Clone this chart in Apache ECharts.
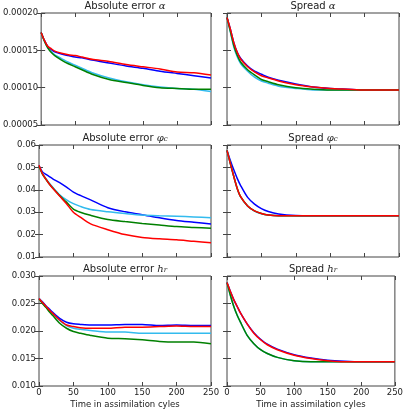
<!DOCTYPE html>
<html>
<head>
<meta charset="utf-8">
<script src="https://cdn.jsdelivr.net/npm/echarts@6/dist/echarts.min.js"></script>
<style>
  html, body { margin: 0; padding: 0; background: #fff; }
  #main { width: 406px; height: 410px; }
</style>
</head>
<body>
<div id="main"></div>
<script>
// time steps (assimilation cycles)
var cycles = [0, 5, 10, 15, 20, 30, 40, 50, 60, 75, 100, 125, 150, 175, 200, 225, 250];

// Absolute error alpha
var errAlphaBlue  = [0.000174, 0.000163, 0.000155, 0.000151, 0.000148, 0.000145, 0.000143, 0.000141, 0.000140, 0.000137, 0.000133, 0.000129, 0.000126, 0.000122, 0.000119, 0.000116, 0.000113];
var errAlphaCyan  = [0.000174, 0.000162, 0.000153, 0.000148, 0.000144, 0.000139, 0.000134, 0.000130, 0.000126, 0.000120, 0.000113, 0.000108, 0.000104, 0.000101, 0.000099, 0.000098, 0.000095];
var errAlphaGreen = [0.000174, 0.000162, 0.000153, 0.000147, 0.000143, 0.000137, 0.000132, 0.000128, 0.000124, 0.000118, 0.000111, 0.000107, 0.000103, 0.000100, 0.000099, 0.000098, 0.000098];
var errAlphaRed   = [0.000174, 0.000163, 0.000155, 0.000152, 0.000149, 0.000146, 0.000144, 0.000143, 0.000141, 0.000138, 0.000135, 0.000131, 0.000128, 0.000125, 0.000121, 0.000120, 0.000117];

// Spread alpha
var sprAlphaBlue  = [0.000194, 0.000178, 0.000160, 0.000147, 0.000139, 0.000129, 0.000122, 0.000118, 0.000114, 0.000110, 0.000105, 0.000101, 0.000099, 0.000098, 0.000097, 0.000097, 0.000097];
var sprAlphaCyan  = [0.000194, 0.000174, 0.000154, 0.000141, 0.000132, 0.000122, 0.000114, 0.000109, 0.000106, 0.000102, 0.000099, 0.000097, 0.000097, 0.000097, 0.000097, 0.000097, 0.000097];
var sprAlphaGreen = [0.000194, 0.000175, 0.000156, 0.000143, 0.000134, 0.000124, 0.000117, 0.000111, 0.000108, 0.000104, 0.000100, 0.000098, 0.000097, 0.000097, 0.000097, 0.000097, 0.000097];
var sprAlphaRed   = [0.000194, 0.000178, 0.000160, 0.000147, 0.000138, 0.000128, 0.000121, 0.000116, 0.000113, 0.000109, 0.000104, 0.000101, 0.000099, 0.000098, 0.000097, 0.000097, 0.000097];

// Absolute error phi_c
var errPhiBlue  = [0.0508, 0.0480, 0.0469, 0.0459, 0.0449, 0.0432, 0.0412, 0.0390, 0.0375, 0.0355, 0.0320, 0.0302, 0.0289, 0.0275, 0.0263, 0.0255, 0.0247];
var errPhiCyan  = [0.0505, 0.0472, 0.0450, 0.0429, 0.0411, 0.0378, 0.0355, 0.0338, 0.0326, 0.0312, 0.0302, 0.0294, 0.0287, 0.0284, 0.0282, 0.0279, 0.0275];
var errPhiGreen = [0.0505, 0.0470, 0.0447, 0.0426, 0.0408, 0.0374, 0.0345, 0.0314, 0.0300, 0.0286, 0.0267, 0.0258, 0.0250, 0.0243, 0.0236, 0.0232, 0.0228];
var errPhiRed   = [0.0510, 0.0472, 0.0448, 0.0426, 0.0407, 0.0372, 0.0338, 0.0300, 0.0278, 0.0248, 0.0222, 0.0200, 0.0187, 0.0181, 0.0177, 0.0170, 0.0164];

// Spread phi_c
var sprPhiBlue  = [0.0576, 0.0530, 0.0488, 0.0450, 0.0418, 0.0366, 0.0336, 0.0316, 0.0303, 0.0292, 0.0285, 0.0284, 0.0284, 0.0284, 0.0284, 0.0284, 0.0284];
var sprPhiCyan  = [0.0576, 0.0515, 0.0457, 0.0404, 0.0367, 0.0327, 0.0305, 0.0293, 0.0287, 0.0284, 0.0284, 0.0284, 0.0284, 0.0284, 0.0284, 0.0284, 0.0284];
var sprPhiGreen = [0.0576, 0.0516, 0.0458, 0.0405, 0.0368, 0.0328, 0.0306, 0.0294, 0.0287, 0.0284, 0.0284, 0.0284, 0.0284, 0.0284, 0.0284, 0.0284, 0.0284];
var sprPhiRed   = [0.0576, 0.0516, 0.0458, 0.0405, 0.0368, 0.0328, 0.0306, 0.0294, 0.0287, 0.0284, 0.0284, 0.0284, 0.0284, 0.0284, 0.0284, 0.0284, 0.0284];

// Absolute error h_r
var errHBlue  = [0.0259, 0.0253, 0.0246, 0.0240, 0.0234, 0.0223, 0.0216, 0.0213, 0.0212, 0.0211, 0.0211, 0.0212, 0.0212, 0.0210, 0.0211, 0.0210, 0.0210];
var errHCyan  = [0.0259, 0.0251, 0.0244, 0.0237, 0.0231, 0.0219, 0.0210, 0.0205, 0.0203, 0.0201, 0.0198, 0.0198, 0.0196, 0.0196, 0.0196, 0.0196, 0.0196];
var errHGreen = [0.0258, 0.0250, 0.0243, 0.0235, 0.0228, 0.0214, 0.0205, 0.0199, 0.0196, 0.0192, 0.0187, 0.0186, 0.0184, 0.0181, 0.0180, 0.0180, 0.0177];
var errHRed   = [0.0259, 0.0252, 0.0245, 0.0238, 0.0232, 0.0220, 0.0211, 0.0208, 0.0206, 0.0205, 0.0205, 0.0207, 0.0207, 0.0208, 0.0209, 0.0208, 0.0208];

// Spread h_r
var sprHBlue  = [0.0288, 0.0272, 0.0257, 0.0245, 0.0233, 0.0213, 0.0197, 0.0185, 0.0176, 0.0167, 0.0157, 0.0151, 0.0147, 0.0145, 0.0144, 0.0144, 0.0144];
var sprHCyan  = [0.0288, 0.0265, 0.0245, 0.0229, 0.0216, 0.0192, 0.0177, 0.0166, 0.0159, 0.0152, 0.0146, 0.0144, 0.0144, 0.0144, 0.0144, 0.0144, 0.0144];
var sprHGreen = [0.0288, 0.0265, 0.0245, 0.0229, 0.0216, 0.0192, 0.0177, 0.0166, 0.0159, 0.0152, 0.0146, 0.0144, 0.0144, 0.0144, 0.0144, 0.0144, 0.0144];
var sprHRed   = [0.0288, 0.0272, 0.0257, 0.0245, 0.0233, 0.0213, 0.0196, 0.0184, 0.0175, 0.0166, 0.0156, 0.0150, 0.0146, 0.0144, 0.0144, 0.0144, 0.0144];

var lineColors = ['#0000ff', '#33bbee', '#008000', '#ff0000'];

var panels = [
    { title: 'Absolute error {m|α}', min: 0.00005, max: 0.0002, step: 0.00005, dec: 5, data: [errAlphaBlue, errAlphaCyan, errAlphaGreen, errAlphaRed] },
    { title: 'Spread {m|α}', min: 0.00005, max: 0.0002, step: 0.00005, dec: 5, data: [sprAlphaBlue, sprAlphaCyan, sprAlphaGreen, sprAlphaRed] },
    { title: 'Absolute error {m|φ}{s|c}', min: 0.01, max: 0.06, step: 0.01, dec: 2, data: [errPhiBlue, errPhiCyan, errPhiGreen, errPhiRed] },
    { title: 'Spread {m|φ}{s|c}', min: 0.01, max: 0.06, step: 0.01, dec: 2, data: [sprPhiBlue, sprPhiCyan, sprPhiGreen, sprPhiRed] },
    { title: 'Absolute error {m|h}{s|r}', min: 0.010, max: 0.030, step: 0.005, dec: 3, data: [errHBlue, errHCyan, errHGreen, errHRed] },
    { title: 'Spread {m|h}{s|r}', min: 0.010, max: 0.030, step: 0.005, dec: 3, data: [sprHBlue, sprHCyan, sprHGreen, sprHRed] }
];

var lefts = [39, 227];
var tops = [13, 145, 276];
var W = 172, H = 112;
var font = 'DejaVu Sans';

var grids = [], xAxes = [], yAxes = [], titles = [], series = [];

panels.forEach(function (p, g) {
    var col = g % 2, row = Math.floor(g / 2);
    var left = lefts[col], top = tops[row];
    var bottomRow = row === 2, leftCol = col === 0;

    grids.push({ left: left, top: top, width: W, height: H, show: true, borderColor: '#444', borderWidth: 1, backgroundColor: '#fff' });

    titles.push({
        text: p.title,
        left: left + W / 2,
        top: top - 12,
        textAlign: 'center',
        padding: 0,
        textStyle: {
            fontFamily: font, fontSize: 10, fontWeight: 'normal', color: '#222',
            rich: {
                m: { fontFamily: 'DejaVu Serif', fontStyle: 'italic', fontSize: 10, color: '#222' },
                s: { fontFamily: 'DejaVu Serif', fontStyle: 'italic', fontSize: 7, color: '#222', verticalAlign: 'bottom', padding: [3, 0, 0, 0] }
            }
        }
    });

    var tick = { show: true, inside: true, length: 4, lineStyle: { color: '#444', width: 1 } };
    // bottom x axis
    xAxes.push({
        gridIndex: g, type: 'value', position: 'bottom', min: 0, max: 250, interval: 50,
        axisLine: { show: false }, axisTick: tick, splitLine: { show: false },
        axisLabel: { show: bottomRow, fontFamily: font, fontSize: 8.5, color: '#222', margin: 2 },
        name: bottomRow ? 'Time in assimilation cyles' : '',
        nameLocation: 'middle', nameGap: 14,
        nameTextStyle: { fontFamily: font, fontSize: 8.5, color: '#222', verticalAlign: 'top' }
    });
    // top x axis (ticks only)
    xAxes.push({
        gridIndex: g, type: 'value', position: 'top', min: 0, max: 250, interval: 50,
        axisLine: { show: false }, axisTick: tick, splitLine: { show: false }, axisLabel: { show: false }
    });
    // left y axis
    yAxes.push({
        gridIndex: g, type: 'value', position: 'left', min: p.min, max: p.max, interval: p.step,
        axisLine: { show: false }, axisTick: tick, splitLine: { show: false },
        axisLabel: {
            show: leftCol, fontFamily: font, fontSize: 8.5, color: '#222', margin: 3,
            formatter: function (v) { return v.toFixed(p.dec); }
        }
    });
    // right y axis (ticks only)
    yAxes.push({
        gridIndex: g, type: 'value', position: 'right', min: p.min, max: p.max, interval: p.step,
        axisLine: { show: false }, axisTick: tick, splitLine: { show: false }, axisLabel: { show: false }
    });

    p.data.forEach(function (vals, k) {
        series.push({
            type: 'line',
            xAxisIndex: 2 * g,
            yAxisIndex: 2 * g,
            data: cycles.map(function (c, i) { return [c, vals[i]]; }),
            showSymbol: false,
            smooth: 0.25,
            lineStyle: { color: lineColors[k], width: 1.5 },
            itemStyle: { color: lineColors[k] },
            z: 2 + k,
            animation: false
        });
    });
});

var myChart = echarts.init(document.getElementById('main'));
myChart.setOption({
    backgroundColor: '#fff',
    animation: false,
    title: titles,
    grid: grids,
    xAxis: xAxes,
    yAxis: yAxes,
    series: series
});
window.addEventListener('resize', function () {
    myChart.resize();
});
</script>
</body>
</html>
